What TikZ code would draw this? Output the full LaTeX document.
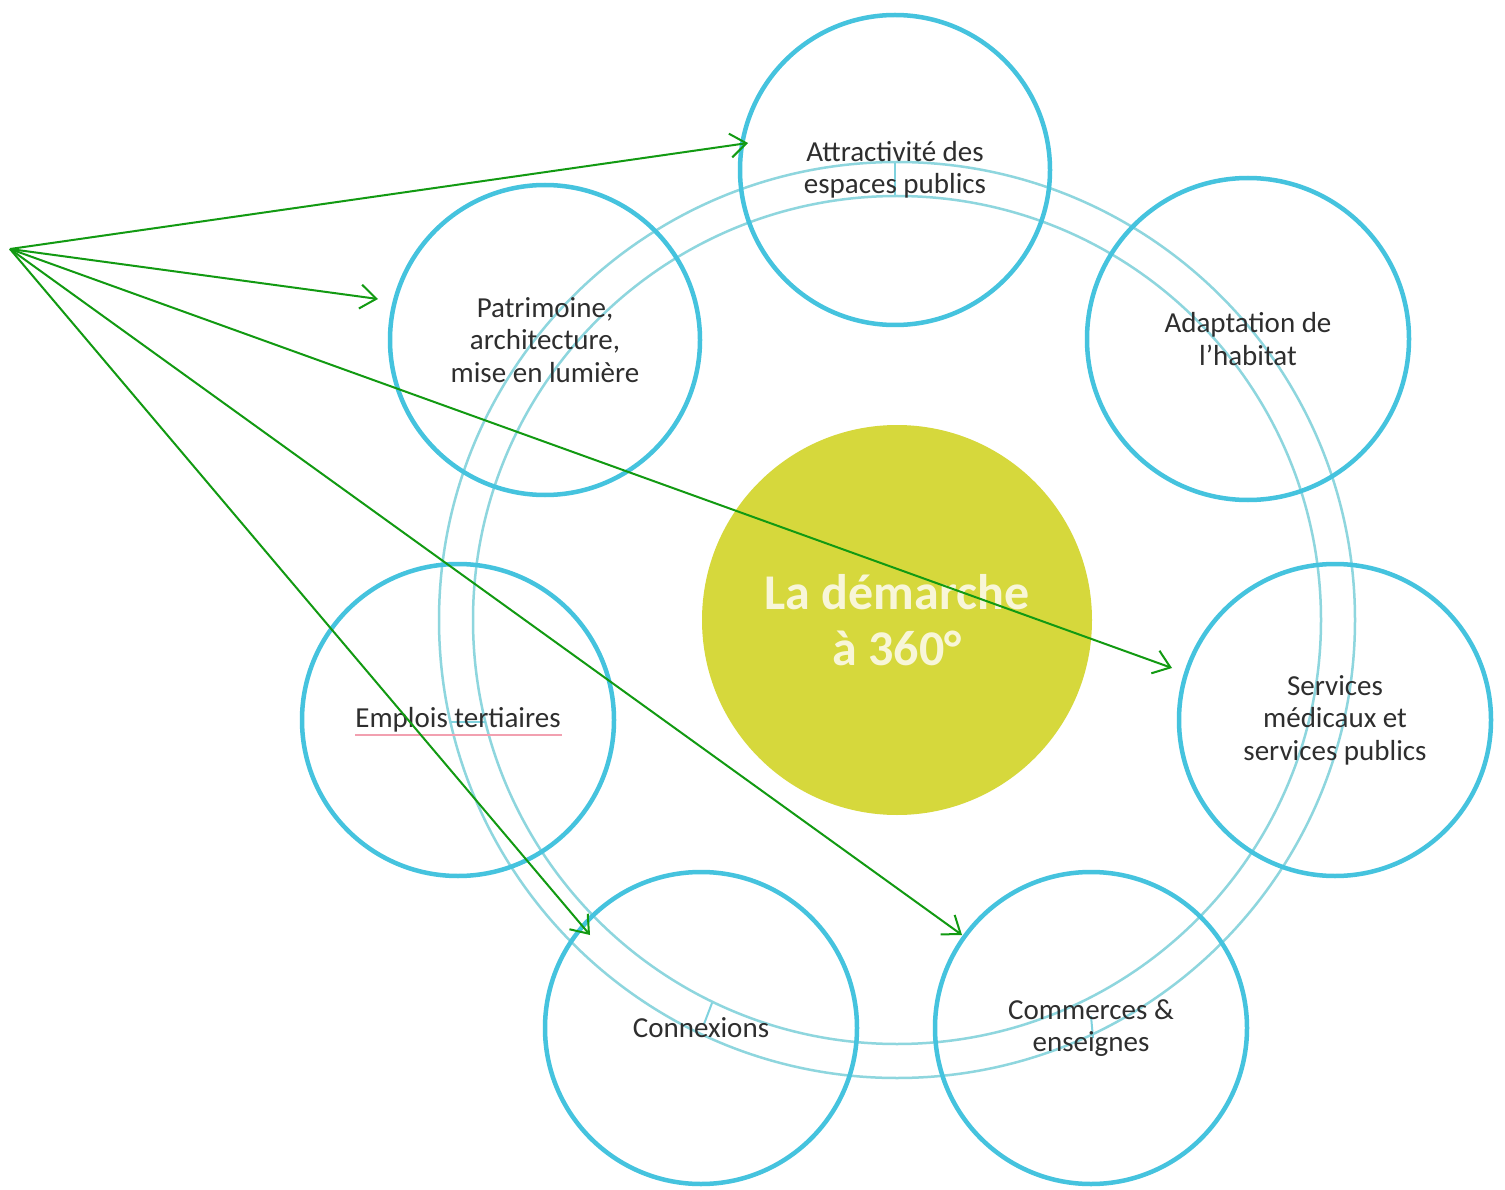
\documentclass[tikz,border=0pt]{standalone}
\usepackage{fontspec}
\setmainfont{Carlito}
\usetikzlibrary{arrows.meta}
\definecolor{cyanline}{HTML}{45C3DE}
\definecolor{ringline}{HTML}{8ED6DE}
\definecolor{centerfill}{HTML}{D6D83C}
\definecolor{arrowgreen}{HTML}{129A12}
\definecolor{textgrey}{HTML}{2E2E2E}
\definecolor{centertext}{HTML}{F8F6D8}
\definecolor{spellred}{HTML}{F2A0B0}
\begin{document}
\begin{tikzpicture}[x=1pt,y=-1pt,
  topic/.style={circle,draw=cyanline,line width=4.5pt,inner sep=0pt,
    text=textgrey,align=center,font=\fontsize{29}{32.5}\selectfont},
  ringstyle/.style={draw=ringline,line width=2.5pt},
  tickstyle/.style={draw=ringline!80!cyanline,line width=2pt},
  arr/.style={draw=arrowgreen,line width=2pt,
    -{Straight Barb[length=16pt,width=24pt,line width=2pt]}}]
\useasboundingbox (0,0) rectangle (1505,1190);
\fill[white] (0,0) rectangle (1505,1190);

% big ring
\coordinate (ringc) at (897,620);
\draw[ringstyle] (ringc) circle[radius=458pt];
\draw[ringstyle] (ringc) circle[radius=424pt];

% radial ticks between the rings
\draw[tickstyle] (895,163) -- (895,195);
\draw[tickstyle] (451,722) -- (486,722);
\draw[tickstyle] (712,1003) -- (704,1024);
\draw[tickstyle] (1091,1016) -- (1093,1038);

% centre
\node[circle,fill=centerfill,minimum size=390pt,inner sep=0pt,
  text=centertext,align=center,font=\fontsize{50}{56}\bfseries\selectfont]
  (centre) at (897,620) {La démarche\\à 360°};

% topics
\node[topic,minimum size=310pt] (attr) at (895,170) {Attractivité des\\espaces publics};
\node[topic,minimum size=310pt] (patr) at (545,340) {Patrimoine,\\architecture,\\mise en lumière};
\node[topic,minimum size=322pt] (adap) at (1248,339) {Adaptation de\\l’habitat};
\node[topic,minimum size=312pt] (serv) at (1335,720) {Services\\médicaux et\\services publics};
\node[topic,minimum size=312pt] (empl) at (458,720) {Emplois tertiaires};
\node[topic,minimum size=312pt] (conn) at (701,1028) {Connexions};
\node[topic,minimum size=312pt] (comm) at (1091,1028) {Commerces \&\\enseignes};

% spell-check underline
\draw[spellred,line width=1.2pt] (355,735) -- (562,735);

% arrows
\coordinate (src) at (10,249);
\coordinate (t1) at (748,143);
\coordinate (t2) at (378,299);
\coordinate (t3) at (1172,668);
\coordinate (t4) at (962,935);
\coordinate (t5) at (590,935);
\draw[arr] (src) -- (t1);
\draw[arr] (src) -- (t2);
\draw[arr] (src) -- (t3);
\draw[arr] (src) -- (t4);
\draw[arr] (src) -- (t5);
\end{tikzpicture}
\end{document}
